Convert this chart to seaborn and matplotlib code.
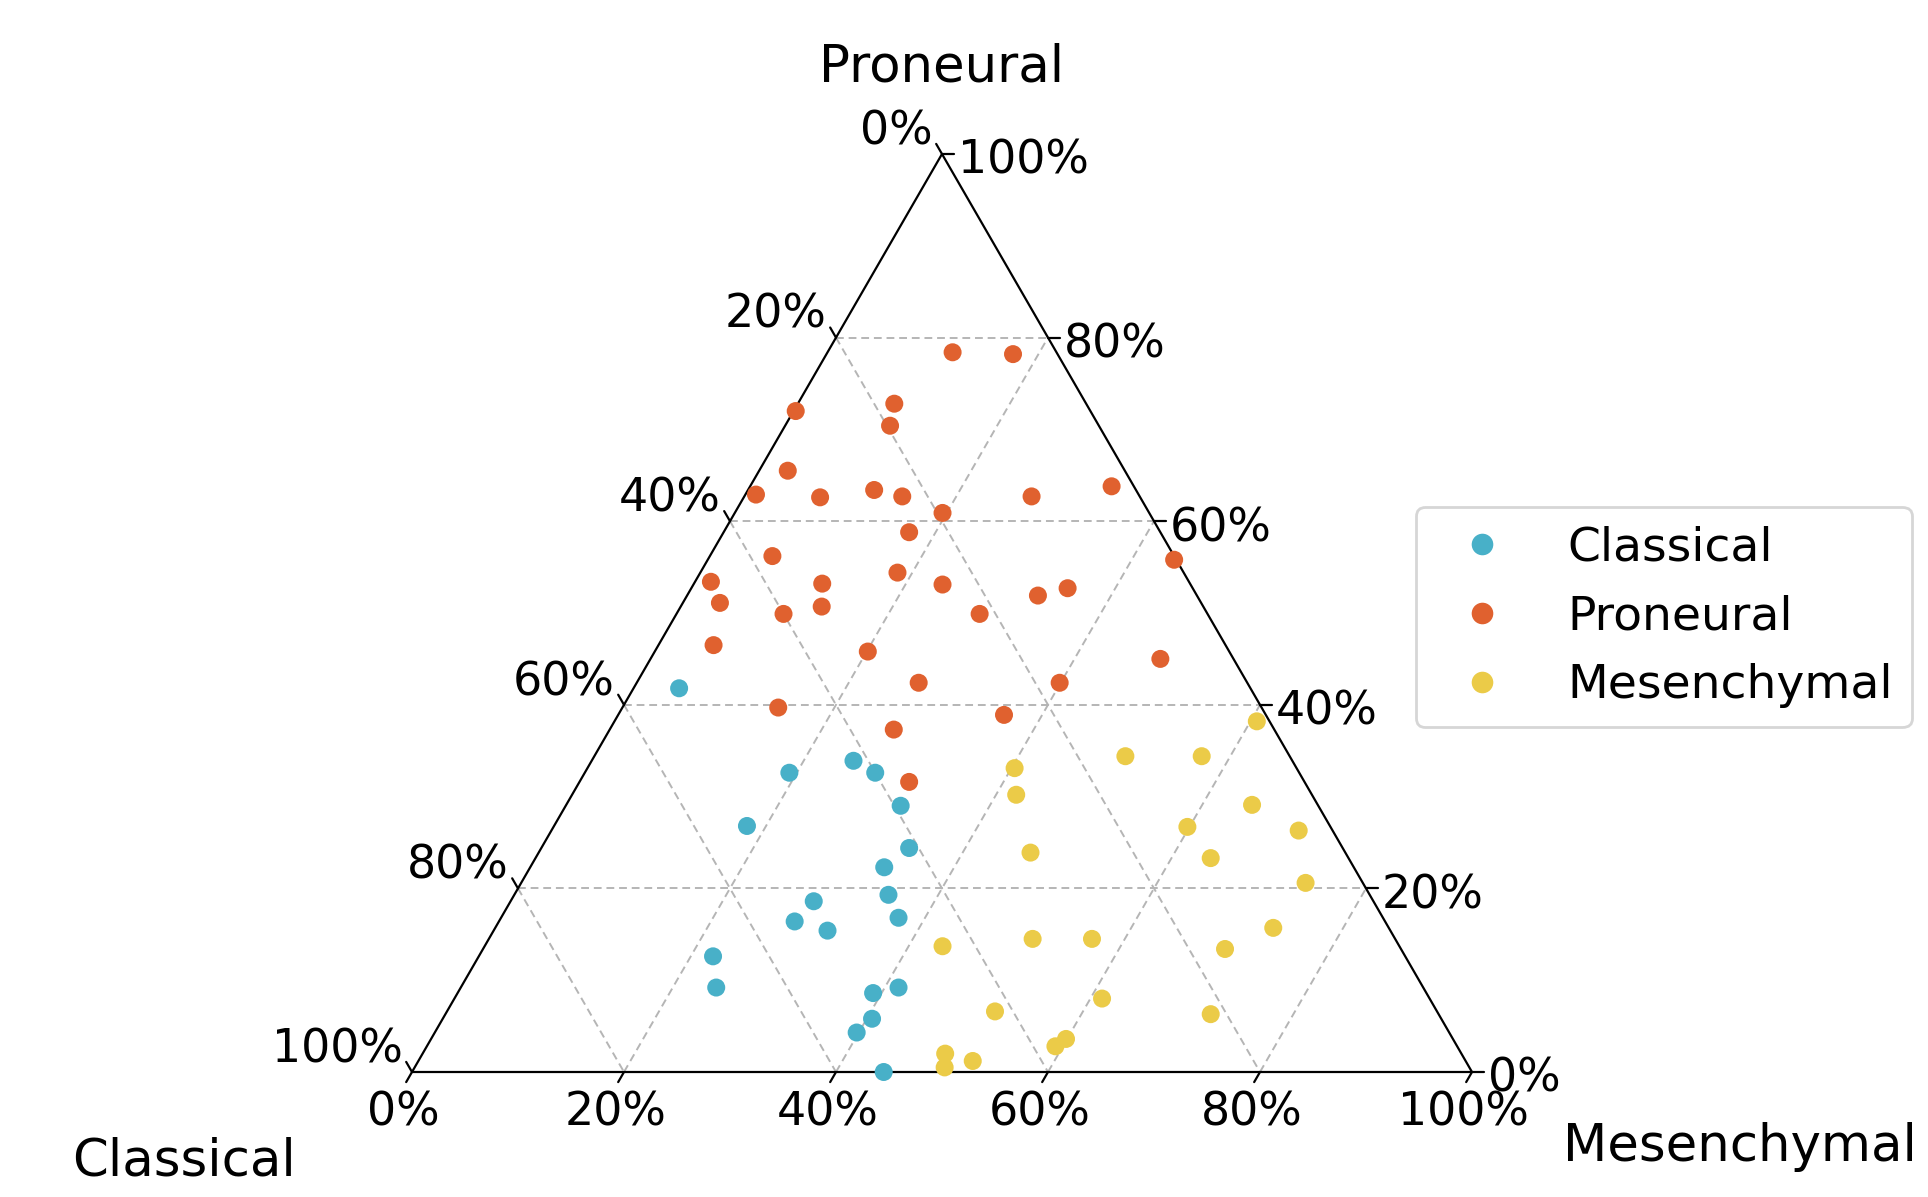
import numpy as np
import pandas as pd
import seaborn as sns
from matplotlib import pyplot as plt

# ternary data: fractions of Proneural (p) and Mesenchymal (m); Classical = 1 - p - m
classical_p = [0.418, 0.339, 0.326, 0.326, 0.290, 0.268, 0.244, 0.223, 0.186, 0.193,
               0.164, 0.154, 0.168, 0.126, 0.092, 0.086, 0.092, 0.058, 0.043, 0.0]
classical_m = [0.043, 0.247, 0.193, 0.274, 0.316, 0.182, 0.347, 0.334, 0.286, 0.353,
               0.279, 0.315, 0.375, 0.221, 0.241, 0.392, 0.413, 0.405, 0.398, 0.445]

proneural_p = [0.784, 0.782, 0.728, 0.704, 0.720, 0.655, 0.629, 0.626, 0.634, 0.627,
               0.627, 0.638, 0.609, 0.588, 0.562, 0.558, 0.534, 0.511, 0.532, 0.507,
               0.499, 0.544, 0.531, 0.499, 0.519, 0.527, 0.465, 0.458, 0.424, 0.424,
               0.450, 0.397, 0.389, 0.373, 0.316]
proneural_m = [0.118, 0.176, 0.091, 0.099, 0.002, 0.027, 0.010, 0.072, 0.119, 0.149,
               0.271, 0.341, 0.196, 0.175, 0.059, 0.440, 0.015, 0.035, 0.121, 0.133,
               0.101, 0.186, 0.235, 0.286, 0.331, 0.355, 0.052, 0.201, 0.266, 0.399,
               0.481, 0.147, 0.364, 0.268, 0.311]

mesenchymal_p = [0.382, 0.344, 0.344, 0.331, 0.302, 0.291, 0.267, 0.263, 0.239, 0.233,
                 0.206, 0.157, 0.137, 0.145, 0.145, 0.134, 0.080, 0.066, 0.063, 0.020,
                 0.005, 0.012, 0.028, 0.036]
mesenchymal_m = [0.606, 0.501, 0.573, 0.403, 0.419, 0.647, 0.598, 0.705, 0.464, 0.637,
                 0.740, 0.734, 0.432, 0.513, 0.569, 0.700, 0.611, 0.517, 0.722, 0.493,
                 0.500, 0.523, 0.593, 0.599]

subtypes = ['Classical', 'Proneural', 'Mesenchymal']
colors = ['#48B0C8', '#E0612F', '#EBCB48']
ticks = [0.0, 0.2, 0.4, 0.6, 0.8, 1.0]

H = np.sqrt(3) / 2


# ternary -> cartesian
def to_xy(p, m):
    p = np.asarray(p, dtype=float)
    m = np.asarray(m, dtype=float)
    return m + p / 2, p * H


frames = []
for name, p, m in [('Classical', classical_p, classical_m),
                   ('Proneural', proneural_p, proneural_m),
                   ('Mesenchymal', mesenchymal_p, mesenchymal_m)]:
    x, y = to_xy(p, m)
    frames.append(pd.DataFrame({'x': x, 'y': y, 'Proneural': p, 'Mesenchymal': m,
                                'Classical': 1 - np.array(p) - np.array(m), 'subtype': name}))
df = pd.concat(frames, ignore_index=True)

sns.set_style('white')
plt.rcParams['text.color'] = 'black'

fig = plt.figure(figsize=(9.64, 5.985), dpi=200)
ax = fig.add_axes([412 / 1928, 125 / 1197, 1060 / 1928, 918 / 1197])
ax.set_xlim(0, 1)
ax.set_ylim(0, H)
ax.axis('off')

grid_kw = dict(color='#b5b5b5', lw=0.7, ls=(0, (4, 2.5)), zorder=1)
for v in ticks[1:-1]:
    # constant proneural
    x, y = to_xy([v, v], [0, 1 - v])
    ax.plot(x, y, **grid_kw)
    # constant mesenchymal
    x, y = to_xy([0, 1 - v], [v, v])
    ax.plot(x, y, **grid_kw)
    # constant classical
    x, y = to_xy([1 - v, 0], [0, 1 - v])
    ax.plot(x, y, **grid_kw)

# triangle frame
x, y = to_xy([0, 0, 1, 0], [0, 1, 0, 0])
ax.plot(x, y, color='black', lw=0.8, zorder=2, clip_on=False)

tl = 0.011
fs_tick = 16.5
for v in ticks:
    lab = '{:.0f}%'.format(v * 100)
    # bottom axis: Mesenchymal
    x, y = to_xy(0, v)
    ax.plot([x, x - 0.5 * tl], [y, y - H * tl], color='black', lw=0.8, clip_on=False)
    ax.text(x - 0.008, y - 0.017, lab, ha='center', va='top', fontsize=fs_tick)
    # right axis: Proneural
    x, y = to_xy(v, 1 - v)
    ax.plot([x, x + tl], [y, y], color='black', lw=0.8, clip_on=False)
    ax.text(x + 0.015, y - 0.007, lab, ha='left', va='center', fontsize=fs_tick)
    # left axis: Classical
    x, y = to_xy(1 - v, 0)
    ax.plot([x, x - 0.5 * tl], [y, y + H * tl], color='black', lw=0.8, clip_on=False)
    ax.text(x - 0.009, y + 0.021, lab, ha='right', va='center', fontsize=fs_tick)

sns.scatterplot(data=df, x='x', y='y', hue='subtype', hue_order=subtypes,
                palette=colors, s=42, linewidth=0,
                ax=ax, zorder=3, clip_on=False)

sns.move_legend(ax, 'center left', bbox_to_anchor=(1416 / 1928, 1 - 617 / 1197),
                bbox_transform=fig.transFigure, borderaxespad=0, title=None,
                fontsize=17, markerscale=1.2, frameon=True)

fig.text(942 / 1928, 1 - 68 / 1197, 'Proneural', ha='center', va='center', fontsize=18.5)
fig.text(184 / 1928, 1 - 1162 / 1197, 'Classical', ha='center', va='center', fontsize=18.5)
fig.text(1740 / 1928, 1 - 1147 / 1197, 'Mesenchymal', ha='center', va='center', fontsize=18.5)

fig.savefig('out.png', dpi=200)
